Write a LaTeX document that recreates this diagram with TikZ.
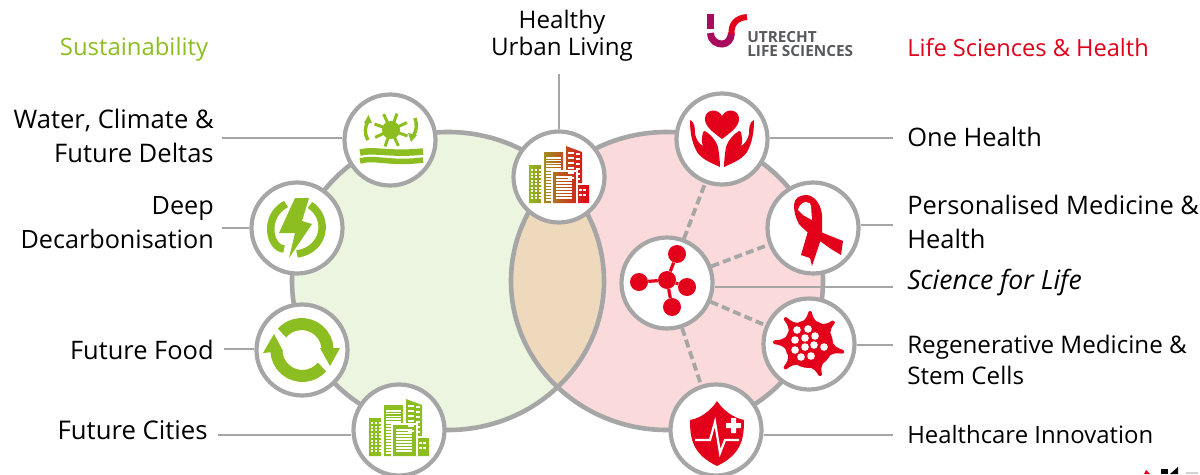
\documentclass[tikz,border=0pt]{standalone}
\usepackage{fontspec}
\setmainfont{Open Sans}
\usetikzlibrary{calc}
\definecolor{lgreen}{HTML}{8CBE22}
\definecolor{lred}{HTML}{E2001A}
\definecolor{lorange}{HTML}{F0A63C}
\definecolor{lgray}{HTML}{A6A6A6}
\definecolor{fillgreen}{HTML}{EBF5DF}
\definecolor{fillred}{HTML}{FADADA}
\definecolor{filltan}{HTML}{EED9BC}
\definecolor{logom}{HTML}{A90A5C}
\definecolor{logot}{HTML}{58595B}
\def\pxw{0.711pt}
\newcommand{\lf}[2]{\fontsize{#1}{#2}\selectfont}
\tikzset{
  iconring/.style={circle,draw=lgray,fill=white,line width=4.2*\pxw,minimum size=91*0.711pt,inner sep=0pt},
  blob/.style={draw=lgray,line width=4.6*\pxw},
  leader/.style={draw=lgray,line width=2.6*\pxw},
  dashlink/.style={draw=lgray,line width=3.8*\pxw,dash pattern=on 5.7pt off 3pt},
  lbl/.style={inner sep=0pt,text=black},
  lblr/.style={lbl,anchor=west,align=left},
  lbll/.style={lbl,anchor=east,align=right},
  atom/.style={circle,fill=lred,minimum size=18*0.711pt,inner sep=0pt},
}
% city icon: #1 = left colour, #2 = middle colour, #3 = right colour
\newcommand{\cityicon}[3]{%
  \begin{scope}
    \clip (-30,26) rectangle (-18,-12)
          (-15,26) rectangle (4,-25)
          (7,6) -- (7,-31) -- (23,-25) -- (23,6) -- cycle
          (-6,26) rectangle (17,-5)
          (18,26) rectangle (30,8);
    \shade[left color=#1,middle color=#2,right color=#3] (-31,-32) rectangle (31,27);
    \foreach \yy in {-20,-17.2,...,-7}{\fill[white] (-13,\yy) rectangle (2,\yy+1.6);}
    \foreach \yy in {-8,-5,...,24}{\fill[white] (-13,\yy) rectangle (-8,\yy+1.6);}
    \foreach \yy in {-8,-4.5,...,20}{\foreach \xx in {-28,-24,-20.5}{\fill[white] (\xx,\yy) rectangle (\xx+2.2,\yy+2.2);}}
    \foreach \yy in {-25,-20,...,0}{\fill[white] (9,\yy) rectangle (15,\yy+1.8);\fill[white] (17,\yy+1) rectangle (21,\yy+2.8);}
    \foreach \yy in {12,17}{\foreach \xx in {20,24}{\fill[white] (\xx,\yy) rectangle (\xx+2.5,\yy+2);}}
    \foreach \yy in {-1,2,...,21}{\fill[white] (-3,\yy) rectangle (13,\yy+1.6);}
  \end{scope}
  \draw[white,line width=1.8*\pxw] (-7,26) -- (-7,-6) -- (18,-6) -- (18,26);
}
\begin{document}
\begin{tikzpicture}[x=0.025cm,y=-0.025cm]
\useasboundingbox (0,0) rectangle (1200,474);
% discs
\fill[fillgreen] (448,281) ellipse [x radius=156,y radius=149];
\fill[fillred] (667,281) ellipse [x radius=156,y radius=149];
\begin{scope}
  \clip (448,281) ellipse [x radius=156,y radius=149];
  \fill[filltan] (667,281) ellipse [x radius=156,y radius=149];
\end{scope}
\draw[blob] (448,281) ellipse [x radius=156,y radius=149];
\draw[blob] (667,281) ellipse [x radius=156,y radius=149];
% icon rings
\node[iconring] (water) at (390,140) {};
\node[iconring] (energy) at (297,228) {};
\node[iconring] (food) at (302,350) {};
\node[iconring] (cities) at (399,430) {};
\node[iconring] (urban) at (559,177) {};
\node[iconring] (onehealth) at (722,139) {};
\node[iconring] (ribbon) at (813,228) {};
\node[iconring] (science) at (667,283) {};
\node[iconring] (regen) at (809,344) {};
\node[iconring] (care) at (716,430) {};
% labels
\node[lbl,text=lgreen,font=\lf{17}{24}] (tsus) at (134,49) {Sustainability};
\node[lbl,align=center,font=\lf{17.2}{19.5}] (turban) at (562,36) {Healthy\\Urban Living};
\node[lblr,text=lred,font=\lf{16.8}{24}] (tlife) at (907,48) {Life Sciences \& Health};
\node[lbll,font=\lf{18.2}{24}] (twater) at (214,136) {Water, Climate \&\\Future Deltas};
\node[lbll,font=\lf{17.9}{24}] (tdeep) at (214,223) {Deep\\Decarbonisation};
\node[lbll,font=\lf{18.1}{24}] (tfood) at (214,350) {Future Food};
\node[lbll,font=\lf{18.3}{24}] (tcities) at (208,430) {Future Cities};
\node[lblr,font=\lf{18.1}{24}] (tone) at (907,137) {One Health};
\node[lblr,font=\lf{18.1}{24}] (tpers) at (907,222) {Personalised Medicine \&\\Health};
\node[lblr,font=\lf{18.9}{24}\itshape] (tsci) at (907,283) {Science for Life};
\node[lblr,font=\lf{17.2}{22.3}] (tregen) at (907,360) {Regenerative Medicine \&\\Stem Cells};
\node[lblr,font=\lf{17}{24}] (tcare) at (907,435) {Healthcare Innovation};
% free ends of leaders
\coordinate (ewater) at (222,138);
\coordinate (eenergy) at (222,228);
\coordinate (efood) at (224,349);
\coordinate (ecities) at (218,435);
\coordinate (eurban) at (559,74);
\coordinate (eone) at (893,138);
\coordinate (eribbon) at (893,225);
\coordinate (esci) at (893,287);
\coordinate (eregen) at (893,345);
\coordinate (ecare) at (893,435);
\draw[leader] (water.west |- ewater) -- (ewater);
\draw[leader] (energy.west |- eenergy) -- (eenergy);
\draw[leader] (food.west |- efood) -- (efood);
\draw[leader] (cities.west |- ecities) -- (ecities);
\draw[leader] (urban.north -| eurban) -- (eurban);
\draw[leader] (onehealth.east |- eone) -- (eone);
\draw[leader] (ribbon.east |- eribbon) -- (eribbon);
\draw[leader] (science.east |- esci) -- (esci);
\draw[leader] (regen.east |- eregen) -- (eregen);
\draw[leader] (care.east |- ecare) -- (ecare);
\draw[dashlink] (science) -- (onehealth);
\draw[dashlink] (science) -- (ribbon);
\draw[dashlink] (science) -- (regen);
\draw[dashlink] (science) -- (care);
% water icon
\begin{scope}[shift={(390,140)}]
  \fill[lgreen] (1,-10) circle (9);
  \foreach \a in {0,45,...,315}{\draw[lgreen,line width=3*\pxw] (1,-10) -- ++(\a+20:17.5);}
  \draw[lgreen,line width=3.4*\pxw] (-22,0) .. controls (-26,-7) and (-25,-13) .. (-22,-19);
  \fill[lgreen] (-21.5,-25) -- (-26,-17) -- (-18,-17) -- cycle;
  \draw[lgreen,line width=3.4*\pxw] (25,-22) .. controls (27,-16) and (27,-9) .. (23,-4);
  \fill[lgreen] (21,2) -- (18,-7) -- (27,-5) -- cycle;
  \draw[lgreen,line width=6.5*\pxw] (-30,12.5) .. controls (-15,9) and (0,15) .. (33,11.5);
  \draw[lgreen,line width=5.5*\pxw] (-30,21) .. controls (-15,16.5) and (0,24.5) .. (33,20);
\end{scope}
% energy icon
\begin{scope}[shift={(297,228)}]
  \fill[lgreen] (-2,-30) -- (12,-30) -- (5,-7) -- (15,-4) -- (-8,30) -- (-2,5) -- (-18,5) -- cycle;
  \draw[lgreen,line width=7.5*\pxw] (-11,-24) .. controls (-34,-12) and (-28,20) .. (-13,21);
  \draw[lgreen,line width=7.5*\pxw] (13,-23) .. controls (33,-10) and (28,22) .. (0,26);
\end{scope}
% food icon
\begin{scope}[shift={(302,350)}]
  \draw[lgreen,line width=12*\pxw] (-20,-17) arc[start angle=-139,end angle=-0,radius=26];
  \draw[lgreen,line width=12*\pxw] (20,17) arc[start angle=41,end angle=180,radius=26];
  \fill[lgreen] (28,16) -- (38,-2) -- (18,-2) -- cycle;
  \fill[lgreen] (-28,-16) -- (-39,3) -- (-19,1) -- cycle;
  \draw[white,line width=1.6*\pxw] (-27,-18) -- (-17,-10);
  \draw[white,line width=1.6*\pxw] (17,10) -- (27,20);
\end{scope}
% city icons
\begin{scope}[shift={(399,430)}] \cityicon{lgreen}{lgreen}{lgreen} \end{scope}
\begin{scope}[shift={(559,177)}] \cityicon{lgreen}{lorange}{lred} \end{scope}
% one health
\begin{scope}[shift={(722,139)}]
  \fill[lred] (0,0) .. controls (-8,-6) and (-18,-13) .. (-17,-21) .. controls (-16,-30) and (-4,-31) .. (0,-23)
     .. controls (4,-31) and (16,-30) .. (17,-21) .. controls (18,-13) and (8,-6) .. (0,0) -- cycle;
  \foreach \s in {1,-1}{
  \begin{scope}[xscale=\s]
    \fill[lred] (-32,-19) .. controls (-27,-17) and (-27,-10) .. (-27,-5) .. controls (-26,0) and (-23,5) .. (-19,7)
      .. controls (-21,2) and (-20,-1) .. (-19,-7) -- (-17,-8) .. controls (-12,-5) and (-6,1) .. (-4,8) .. controls (-3,14) and (-2,22) .. (-2,28)
      .. controls (-10,24) and (-23,20) .. (-27,9) .. controls (-31,0) and (-32,-10) .. (-32,-19) -- cycle;
  \end{scope}}
\end{scope}
% ribbon
\begin{scope}[shift={(813,228)}]
  \fill[lred] (-19,-23) .. controls (-19,-29) and (-14,-33) .. (-7,-33) .. controls (1,-33) and (8,-24) .. (9,-13) -- (9,8) -- (-1,38) -- (-3,30) -- (-12,27) -- (-5,3) -- (-10,0) .. controls (-16,-5) and (-19,-14) .. (-19,-23) -- cycle;
  \fill[lred] (-15,-5) -- (30,13) -- (28,27) -- (18,21) -- (-7,3) -- cycle;
  \fill[white] (-15,-18) .. controls (-14,-23) and (-10,-26) .. (-7,-26) .. controls (-4,-26) and (-2,-24) .. (-2,-22) -- (-1,-8) -- (-10,-13) -- cycle;
\end{scope}
% molecule
\node[atom] (mc) at (667,280) {};
\node[atom] (mt) at (677,254) {};
\node[atom] (ml) at (639,282) {};
\node[atom] (mr) at (687,287) {};
\node[atom] (mb) at (672,307) {};
\draw[lred,line width=3.2*\pxw] (mc) -- (mt) (mc) -- (ml) (mc) -- (mr) (mc) -- (mb);
% regen cell
\begin{scope}[shift={(809,344)}]
  \fill[lred] (0,0) circle (24);
  \foreach \ang/\len in {133/35,88/32,42/33,-13/35,-70/33,-135/34,177/35}{
    \fill[lred,rotate=\ang] (21,9) .. controls (25,3) and (29,2.5) .. (\len-1,2) arc[start angle=90,end angle=-90,radius=2] .. controls (29,-2.5) and (25,-3) .. (21,-9) -- cycle;
  }
  \foreach \p in {(-12,-14),(-1,-15),(6,-8),(-14,-4),(-4,-6),(5,1),(15,3),(-14,6),(-4,3),(-8,13),(2,12)}{\fill[white] \p circle (3.8);}
\end{scope}
% shield
\begin{scope}[shift={(716,430)}]
  \fill[lred] (1,-29) .. controls (-4,-21) and (-14,-12) .. (-26,-10) .. controls (-26,8) and (-24,24) .. (1,36) .. controls (26,24) and (28,8) .. (28,-10) .. controls (17,-12) and (6,-21) .. (1,-29) -- cycle;
  \draw[white,line width=2.2*\pxw] (-21,10) -- (-6,10) -- (-1,-8) -- (4,23) -- (9,10) -- (23,10);
  \fill[white] (10,-7) rectangle (25,-2) (15,-12) rectangle (20,3);
\end{scope}
% logo
\fill[logom] (707,14) rectangle (714,29);
\draw[logom,line width=7*\pxw] (710.5,33) .. controls (711,42) and (718,44) .. (722,44) .. controls (727,44) and (731,40) .. (731.5,33);
\draw[lred,line width=6*\pxw] (731.5,34) .. controls (731,24) and (736,18) .. (747,17);
\node[inner sep=0pt,anchor=west,align=left,text=logot,font=\lf{10.9}{9.6}\bfseries] (tlogo) at (747,44) {UTRECHT\\LIFE SCIENCES};
% corner fragment
\fill[lred] (1144,474) -- (1146,470) -- (1150,474) -- cycle;
\fill[black] (1161,469) rectangle (1168,474);
\fill[black] (1170,474) -- (1178,467) -- (1178,474) -- cycle;
\fill[lgray!50] (1186,472) rectangle (1198,474);
\end{tikzpicture}
\end{document}
